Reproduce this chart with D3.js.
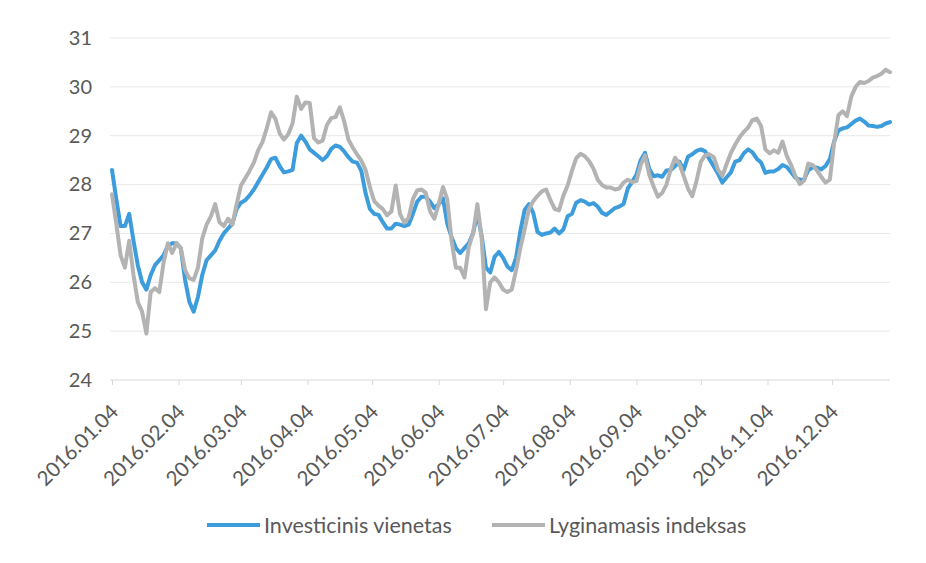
<!DOCTYPE html>
<html>
<head>
<meta charset="utf-8">
<script src="https://cdn.jsdelivr.net/npm/d3@7"></script>
<style>
  body { margin: 0; background: #fff; }
  svg { font-family: Lato, "Open Sans", sans-serif; }
</style>
</head>
<body>
<div class="datavis"><svg></svg></div>
<script>
width = 926
height = 563

// one value every second calendar day, starting 2016.01.04
var startDate = new Date(2016, 0, 4)
var stepDays = 2

var seriesNames = ["Investicinis vienetas", "Lyginamasis indeksas"]
var seriesColors = ["#3d9ddc", "#b3b3b3"]

var investicinis = [
  28.3, 27.7, 27.15, 27.15, 27.4, 26.85, 26.35, 26.0, 25.85, 26.15,
  26.35, 26.45, 26.55, 26.75, 26.8, 26.8, 26.7, 26.05, 25.6, 25.4,
  25.7, 26.15, 26.45, 26.55, 26.65, 26.85, 27.0, 27.1, 27.2, 27.5,
  27.63, 27.68, 27.78, 27.9, 28.05, 28.2, 28.35, 28.52, 28.55, 28.38,
  28.25, 28.27, 28.3, 28.85, 29.0, 28.88, 28.72, 28.65, 28.58, 28.5,
  28.58, 28.73, 28.8, 28.77, 28.68, 28.56, 28.47, 28.45, 28.28, 27.82,
  27.5, 27.4, 27.38, 27.23, 27.1, 27.1, 27.2, 27.18, 27.15, 27.18,
  27.4, 27.65, 27.75, 27.75, 27.65, 27.52, 27.6, 27.72, 27.2, 26.92,
  26.7, 26.6, 26.7, 26.8, 27.0, 27.4, 26.95, 26.3, 26.2, 26.52,
  26.62, 26.5, 26.32, 26.25, 26.5, 27.05, 27.48, 27.6, 27.42, 27.03,
  26.97, 27.0, 27.02, 27.1, 27.0, 27.08, 27.35, 27.4, 27.63, 27.68,
  27.65, 27.59, 27.62, 27.55, 27.42, 27.38, 27.45, 27.52, 27.55, 27.6,
  27.92, 28.05, 28.2, 28.5, 28.65, 28.32, 28.17, 28.19, 28.16, 28.29,
  28.3, 28.38, 28.47, 28.3, 28.57, 28.62, 28.69, 28.72, 28.68, 28.52,
  28.37, 28.22, 28.04, 28.15, 28.25, 28.47, 28.5, 28.64, 28.72, 28.66,
  28.53, 28.45, 28.24, 28.27, 28.27, 28.32, 28.4, 28.36, 28.25, 28.14,
  28.1, 28.1, 28.3, 28.35, 28.35, 28.31, 28.38, 28.52, 28.88, 29.11,
  29.15, 29.17, 29.24, 29.31, 29.35, 29.29, 29.21, 29.2, 29.18, 29.2,
  29.25, 29.28
]

var lyginamasis = [
  27.8, 27.2, 26.55, 26.3, 26.85, 26.15, 25.6, 25.4, 24.95, 25.8,
  25.88, 25.8, 26.4, 26.8, 26.6, 26.8, 26.7, 26.25, 26.08, 26.05,
  26.3, 26.9, 27.18, 27.35, 27.6, 27.23, 27.15, 27.3, 27.18, 27.6,
  27.98, 28.13, 28.28, 28.45, 28.7, 28.87, 29.15, 29.48, 29.35, 29.05,
  28.92, 29.03, 29.25, 29.8, 29.55, 29.68, 29.67, 28.95, 28.86, 28.9,
  29.22, 29.36, 29.38, 29.58, 29.3, 28.92, 28.76, 28.62, 28.49, 28.3,
  27.95, 27.66, 27.57, 27.5, 27.37, 27.45, 27.98, 27.4, 27.22, 27.32,
  27.7, 27.88, 27.9, 27.83, 27.45, 27.3, 27.6, 27.95, 27.7, 26.85,
  26.3, 26.3, 26.1, 26.72, 27.0, 27.6, 26.9, 25.45, 26.0, 26.1,
  26.0, 25.85, 25.8, 25.85, 26.25, 26.7, 27.08, 27.5, 27.66, 27.77,
  27.86, 27.9, 27.68, 27.5, 27.47, 27.77, 27.98, 28.28, 28.54, 28.63,
  28.58, 28.48, 28.33, 28.1, 27.99, 27.94, 27.94, 27.9, 27.92, 28.04,
  28.1, 28.05, 28.07, 28.4, 28.6, 28.2, 27.96, 27.75, 27.83, 28.0,
  28.32, 28.55, 28.42, 28.18, 27.92, 27.76, 28.08, 28.47, 28.6, 28.62,
  28.56, 28.3, 28.18, 28.42, 28.65, 28.82, 28.97, 29.08, 29.17, 29.32,
  29.35, 29.2, 28.72, 28.64, 28.7, 28.65, 28.88, 28.58, 28.4, 28.17,
  28.01, 28.08, 28.43, 28.4, 28.29, 28.16, 28.04, 28.1, 28.85, 29.42,
  29.5, 29.4, 29.8, 30.0, 30.1, 30.08, 30.12, 30.19, 30.22, 30.27,
  30.35, 30.3
]

var yTicks = [24, 25, 26, 27, 28, 29, 30, 31]
var xTickDates = ["2016.01.04", "2016.02.04", "2016.03.04", "2016.04.04", "2016.05.04", "2016.06.04",
                  "2016.07.04", "2016.08.04", "2016.09.04", "2016.10.04", "2016.11.04", "2016.12.04"]

var margin = {
    top: 38,
    right: 36,
    bottom: 183,
    left: 112
}

var parseDot = d3.timeParse("%Y.%m.%d")
var fmtDot = d3.timeFormat("%Y.%m.%d")

var dates = investicinis.map((d, i) => d3.timeDay.offset(startDate, i * stepDays))

var data = [investicinis, lyginamasis].map((vals, k) => ({
    name: seriesNames[k],
    color: seriesColors[k],
    values: vals.map((v, i) => ({date: dates[i], val: v}))
}))

x = d3.scaleTime()
    .domain([startDate, new Date(2016, 11, 31)])
    .range([margin.left, width - margin.right])
y = d3.scaleLinear()
    .domain([24, 31])
    .range([height - margin.bottom, margin.top])

svg = d3.select(".datavis > svg")
    .attr("width", width)
    .attr("height", height)
    .attr("viewBox", [0, 0, width, height])

// horizontal grid
svg.append("g").attr("class", "grid")
    .selectAll("line")
    .data(yTicks)
    .join("line")
    .attr("x1", margin.left - 2)
    .attr("x2", width - margin.right)
    .attr("y1", d => y(d))
    .attr("y2", d => y(d))
    .attr("stroke", d => d == 24 ? "#d9d9d9" : "#e8e8e8")
    .attr("stroke-width", 1)

// y axis labels
yAxis = g => g
    .attr("transform", `translate(${margin.left - 20},0)`)
    .call(d3.axisLeft(y).tickValues(yTicks).tickSize(0).tickPadding(0).tickFormat(d3.format("d")))
    .call(g => g.select(".domain").remove())
    .call(g => g.selectAll("text").attr("font-size", 20).attr("fill", "#595959").attr("font-family", "Lato, sans-serif"))

// x axis, date labels rotated
xAxis = g => g
    .attr("transform", `translate(0,${height - margin.bottom})`)
    .call(d3.axisBottom(x).tickValues(xTickDates.map(parseDot)).tickSize(5).tickFormat(fmtDot))
    .call(g => g.select(".domain").remove())
    .call(g => g.selectAll(".tick line").attr("stroke", "#d9d9d9"))
    .call(g => g.selectAll("text")
        .attr("font-size", 20.5)
        .attr("fill", "#595959")
        .attr("font-family", "Lato, sans-serif")
        .attr("text-anchor", "end")
        .attr("dy", "0.35em")
        .attr("transform", "translate(2,28) rotate(-45)")
        .attr("y", 0)
        .attr("x", 0))

svg.append("g").attr("class", "yaxis").call(yAxis)
svg.append("g").attr("class", "xaxis").call(xAxis)

line = d3.line()
    .x(d => x(d.date))
    .y(d => y(d.val))

// fund line first, benchmark drawn over it (as in the original)
svg.selectAll(".serie").data(data)
    .join("path").attr("class", "serie")
    .attr("fill", "none")
    .attr("stroke", d => d.color)
    .attr("stroke-width", 4)
    .attr("stroke-linejoin", "round")
    .attr("stroke-linecap", "round")
    .attr("d", d => line(d.values))

// legend
var legendX = [207, 492]
var legend = svg.append("g").attr("class", "legend")
    .selectAll("g")
    .data(data)
    .join("g")
    .attr("transform", (d, i) => `translate(${legendX[i]},525)`)
legend.append("line")
    .attr("x1", 0).attr("x2", 53)
    .attr("stroke", d => d.color)
    .attr("stroke-width", 4)
legend.append("text")
    .attr("x", 57)
    .attr("dy", "0.35em")
    .attr("font-size", 21.5)
    .attr("fill", "#595959")
    .text(d => d.name)
</script>
</body>
</html>
